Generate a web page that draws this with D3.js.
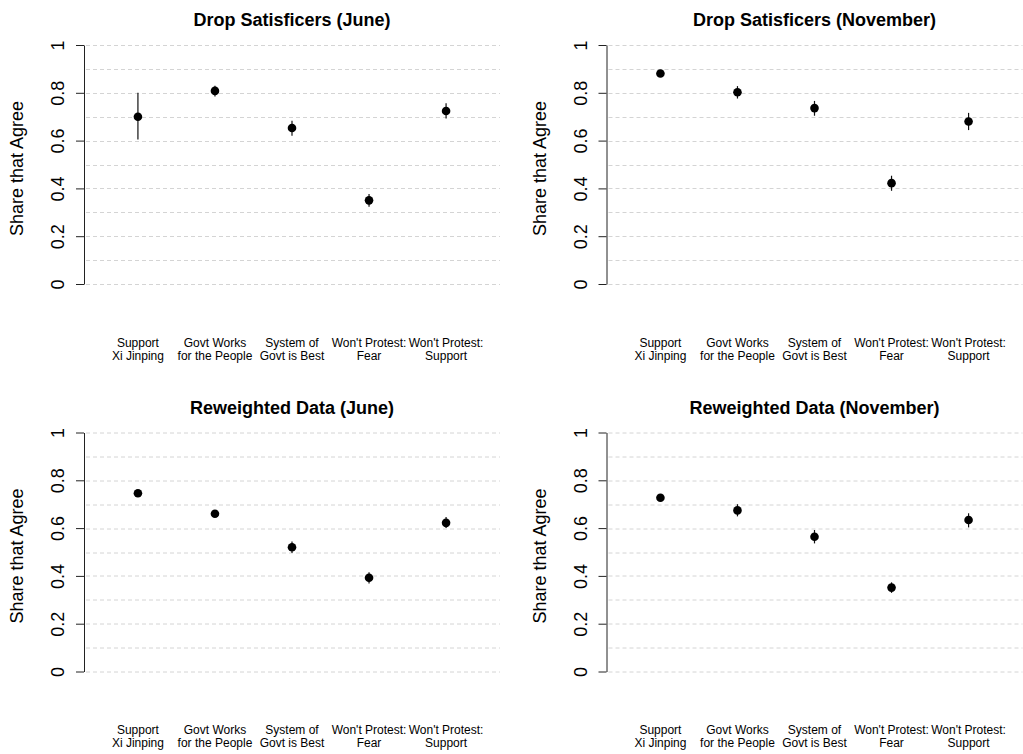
<!DOCTYPE html>
<html>
<head>
<meta charset="utf-8">
<script src="https://cdn.jsdelivr.net/npm/d3@7"></script>
<style>
  html, body { margin: 0; padding: 0; background: #fff; }
  svg { display: block; font-family: "Liberation Sans", Arial, Helvetica, sans-serif; }
  .grid line { stroke: #d4d4d4; stroke-dasharray: 4,3; stroke-width: 1; }
  .axis path, .axis line { stroke: #222; stroke-width: 1; }
</style>
</head>
<body>
<div id="chart"></div>
<script>
// Categories (two-line labels)
const categories = [
    ['Support', 'Xi Jinping'],
    ['Govt Works', 'for the People'],
    ['System of', 'Govt is Best'],
    ["Won't Protest:", 'Fear'],
    ["Won't Protest:", 'Support']
];

const panelTitles = [
    'Drop Satisficers (June)',
    'Drop Satisficers (November)',
    'Reweighted Data (June)',
    'Reweighted Data (November)'
];

// Point estimates and interval bounds, per panel
const dropJuneEst = [0.700, 0.808, 0.653, 0.350, 0.724];
const dropJuneLo  = [0.605, 0.785, 0.620, 0.323, 0.692];
const dropJuneHi  = [0.800, 0.830, 0.683, 0.377, 0.756];

const dropNovEst = [0.881, 0.802, 0.736, 0.422, 0.680];
const dropNovLo  = [0.870, 0.776, 0.704, 0.390, 0.644];
const dropNovHi  = [0.892, 0.828, 0.766, 0.453, 0.716];

const rewJuneEst = [0.746, 0.660, 0.520, 0.392, 0.622];
const rewJuneLo  = [0.735, 0.646, 0.496, 0.368, 0.600];
const rewJuneHi  = [0.757, 0.674, 0.544, 0.415, 0.646];

const rewNovEst = [0.727, 0.674, 0.564, 0.351, 0.634];
const rewNovLo  = [0.716, 0.649, 0.536, 0.329, 0.603];
const rewNovHi  = [0.738, 0.700, 0.592, 0.373, 0.662];

const yTicks = [0, 0.2, 0.4, 0.6, 0.8, 1];
const gridValues = [0, 0.1, 0.2, 0.3, 0.4, 0.5, 0.6, 0.7, 0.8, 0.9, 1];
const yLabel = 'Share that Agree';

(function () {
    'use strict';

    const W = 1023, H = 754;
    const plotW = 416;
    const fontFamily = '"Liberation Sans", Arial, Helvetica, sans-serif';

    // Layout for the 2x2 grid: x of the axis, y of value 1 / value 0
    const panels = [
        { title: panelTitles[0], x0: 84,    yTop: 45,    yBot: 284,   est: dropJuneEst, lo: dropJuneLo, hi: dropJuneHi },
        { title: panelTitles[1], x0: 606.5, yTop: 45,    yBot: 284,   est: dropNovEst,  lo: dropNovLo,  hi: dropNovHi },
        { title: panelTitles[2], x0: 84,    yTop: 432.5, yBot: 671.5, est: rewJuneEst,  lo: rewJuneLo,  hi: rewJuneHi },
        { title: panelTitles[3], x0: 606.5, yTop: 432.5, yBot: 671.5, est: rewNovEst,   lo: rewNovLo,   hi: rewNovHi }
    ];

    const svg = d3.select('#chart')
        .append('svg')
        .attr('width', W)
        .attr('height', H);

    const x = d3.scaleLinear().domain([0.3, 5.7]).range([0, plotW]);

    panels.forEach(p => {
        const y = d3.scaleLinear().domain([0, 1]).range([p.yBot - p.yTop, 0]);
        const g = svg.append('g').attr('transform', `translate(${p.x0},${p.yTop})`);

        // Dashed gridlines
        g.append('g')
            .attr('class', 'grid')
            .selectAll('line')
            .data(gridValues)
            .enter()
            .append('line')
            .attr('x1', 2)
            .attr('x2', plotW)
            .attr('y1', d => Math.round(y(d)) + 0.5)
            .attr('y2', d => Math.round(y(d)) + 0.5);

        // Y axis with rotated tick labels
        const axis = g.append('g')
            .attr('class', 'axis')
            .call(d3.axisLeft(y)
                .tickValues(yTicks)
                .tickSize(8)
                .tickSizeOuter(0)
                .tickFormat(d => d === 0 ? '0' : d === 1 ? '1' : d3.format('.1f')(d)));

        axis.attr('font-size', 18).attr('font-family', fontFamily);

        axis.selectAll('.tick text')
            .attr('x', 0)
            .attr('y', 0)
            .attr('dy', '0.35em')
            .attr('text-anchor', 'middle')
            .attr('transform', 'translate(-26,0) rotate(-90)')
            .attr('fill', '#000')
            .style('font-size', '18px');

        // Y axis title
        g.append('text')
            .attr('transform', `translate(-67,${(p.yBot - p.yTop) / 2 + 4}) rotate(-90)`)
            .attr('text-anchor', 'middle')
            .attr('dy', '0.35em')
            .style('font-size', '18px')
            .text(yLabel);

        // Panel title
        g.append('text')
            .attr('x', plotW / 2)
            .attr('y', -19)
            .attr('text-anchor', 'middle')
            .style('font-size', '18px')
            .style('font-weight', 'bold')
            .text(p.title);

        const rows = categories.map((c, i) => ({
            pos: i + 1,
            est: p.est[i],
            lo: p.lo[i],
            hi: p.hi[i]
        }));

        // Interval bars
        g.selectAll('line.ci')
            .data(rows)
            .enter()
            .append('line')
            .attr('class', 'ci')
            .attr('x1', d => x(d.pos))
            .attr('x2', d => x(d.pos))
            .attr('y1', d => y(d.lo))
            .attr('y2', d => y(d.hi))
            .attr('stroke', '#111')
            .attr('stroke-width', 1.2);

        // Points
        g.selectAll('circle.pt')
            .data(rows)
            .enter()
            .append('circle')
            .attr('class', 'pt')
            .attr('cx', d => x(d.pos))
            .attr('cy', d => y(d.est))
            .attr('r', 4.3)
            .attr('fill', '#000');

        // Category labels below the plot
        const lab = g.selectAll('text.cat')
            .data(categories)
            .enter()
            .append('text')
            .attr('class', 'cat')
            .attr('text-anchor', 'middle')
            .style('font-size', '12px');

        lab.append('tspan')
            .attr('x', (d, i) => x(i + 1))
            .attr('y', 301.5)
            .text(d => d[0]);

        lab.append('tspan')
            .attr('x', (d, i) => x(i + 1))
            .attr('y', 314.5)
            .text(d => d[1]);
    });
})();
</script>
</body>
</html>
